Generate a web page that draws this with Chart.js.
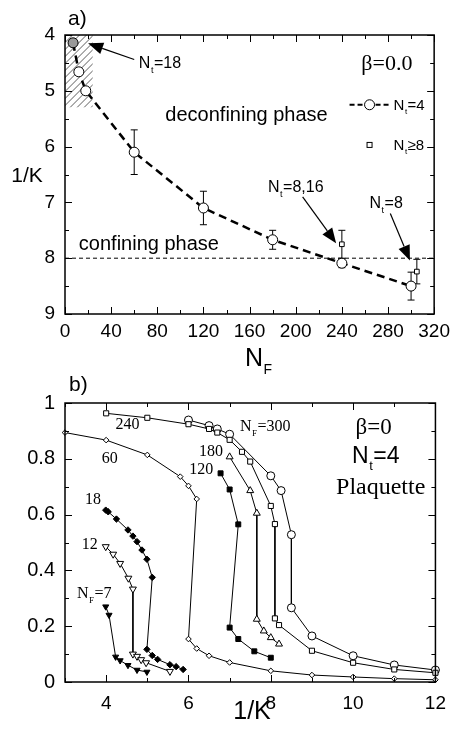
<!DOCTYPE html>
<html>
<head>
<meta charset="utf-8">
<script src="https://cdn.jsdelivr.net/npm/chart.js@4.4.0/dist/chart.umd.min.js"></script>
<style>
  body { margin: 0; background: #fff; }
  #wrap { position: relative; width: 456px; height: 731px; }
  #chart_a { position: absolute; left: 0; top: 0; }
  #chart_b { position: absolute; left: 0; top: 365px; }
</style>
</head>
<body>
<div id="wrap">
  <canvas id="chart_a" width="456" height="385"></canvas>
  <canvas id="chart_b" width="456" height="366"></canvas>
</div>
<script>
// ---- panel a) : critical 1/K vs N_F
const nfNt4 = [7, 12, 18, 60, 120, 180, 240, 300];
const invKNt4 = [4.14, 4.66, 5.0, 6.1, 7.1, 7.67, 8.09, 8.5];
const errNt4 = [0.05, 0.06, 0.06, 0.4, 0.3, 0.17, 0.08, 0.25];
const nfNt8 = [240, 305];
const invKNt8 = [7.75, 8.24];
const errNt8 = [0.25, 0.22];
const ticksNF = [0, 40, 80, 120, 160, 200, 240, 280, 320];
const ticksInvKa = [4, 5, 6, 7, 8, 9];
const confLine = 8;

// ---- panel b) : plaquette vs 1/K, N_t=4
const nf7X = [3.99, 4.07, 4.23, 4.34, 4.53, 4.75, 4.99];
const nf7Y = [0.27, 0.24, 0.09, 0.077, 0.06, 0.043, 0.036];
const nf12X = [3.99, 4.17, 4.34, 4.54, 4.65, 4.65, 4.75, 4.85, 4.97, 5.55];
const nf12Y = [0.485, 0.458, 0.425, 0.372, 0.333, 0.10, 0.092, 0.08, 0.069, 0.038];
const nf18X = [3.99, 4.05, 4.25, 4.53, 4.65, 4.75, 4.87, 4.99, 5.12, 4.99, 5.12, 5.25, 5.55, 5.7, 5.87];
const nf18Y = [0.616, 0.61, 0.584, 0.545, 0.523, 0.503, 0.473, 0.44, 0.375, 0.117, 0.095, 0.081, 0.062, 0.055, 0.045];
const nf60X = [3.0, 4.0, 5.0, 5.8, 6.0, 6.2, 6.0, 6.2, 6.5, 7.0, 8.0, 9.0, 10.0, 11.0, 12.0];
const nf60Y = [0.894, 0.867, 0.814, 0.736, 0.703, 0.656, 0.154, 0.12, 0.094, 0.07, 0.04, 0.025, 0.018, 0.012, 0.008];
const nf120X = [6.78, 7.0, 7.21, 7.0, 7.21, 7.6, 8.0];
const nf120Y = [0.748, 0.69, 0.565, 0.195, 0.154, 0.11, 0.087];
const nf180X = [7.0, 7.5, 7.66, 7.66, 7.83, 8.0, 8.2];
const nf180Y = [0.807, 0.686, 0.605, 0.225, 0.183, 0.159, 0.136];
const nf240X = [4.0, 5.0, 6.0, 6.5, 6.7, 7.0, 7.3, 7.5, 8.0, 8.1, 8.1, 8.2, 9.0, 10.0, 11.0, 12.0];
const nf240Y = [0.963, 0.947, 0.924, 0.907, 0.894, 0.868, 0.825, 0.79, 0.631, 0.566, 0.228, 0.204, 0.112, 0.069, 0.045, 0.033];
const nf300X = [6.0, 6.5, 6.7, 7.0, 8.0, 8.25, 8.5, 8.5, 9.0, 10.0, 11.0, 12.0];
const nf300Y = [0.939, 0.919, 0.907, 0.888, 0.739, 0.686, 0.528, 0.266, 0.165, 0.094, 0.061, 0.043];
const ticksInvKb = [4, 6, 8, 10, 12];
const ticksPlaq = [0, 0.2, 0.4, 0.6, 0.8, 1];

const SANS = '"Liberation Sans", Arial, sans-serif';
const SERIF = '"Liberation Serif", "Times New Roman", serif';

function pts(xs, ys) {
    return xs.map((x, i) => ({ x: x, y: ys[i] }));
}

function line(ctx, x1, y1, x2, y2) {
    ctx.beginPath();
    ctx.moveTo(x1, y1);
    ctx.lineTo(x2, y2);
    ctx.stroke();
}

function arrow(ctx, x1, y1, x2, y2) {
    const ang = Math.atan2(y2 - y1, x2 - x1);
    const head = 15, half = 6;
    const bx = x2 - head * Math.cos(ang), by = y2 - head * Math.sin(ang);
    ctx.lineWidth = 1.2;
    line(ctx, x1, y1, bx, by);
    ctx.beginPath();
    ctx.moveTo(x2, y2);
    ctx.lineTo(bx + half * Math.sin(ang), by - half * Math.cos(ang));
    ctx.lineTo(bx - half * Math.sin(ang), by + half * Math.cos(ang));
    ctx.closePath();
    ctx.fill();
}

// text with a subscript: main + sub + rest, baseline at y
function subText(ctx, x, y, main, sub, rest, size, family, align) {
    const subSize = Math.round(size * 0.55);
    ctx.textBaseline = 'alphabetic';
    ctx.textAlign = 'left';
    ctx.font = size + 'px ' + family;
    const w1 = ctx.measureText(main).width;
    const w3 = ctx.measureText(rest).width;
    ctx.font = subSize + 'px ' + family;
    const w2 = ctx.measureText(sub).width + 1;
    let start = x;
    if (align == 'center') start = x - (w1 + w2 + w3) / 2;
    ctx.font = size + 'px ' + family;
    ctx.fillText(main, start, y);
    ctx.fillText(rest, start + w1 + w2, y);
    ctx.font = subSize + 'px ' + family;
    ctx.fillText(sub, start + w1 + 0.5, y + size * 0.3);
}

function text(ctx, str, x, y, size, family, align) {
    ctx.font = size + 'px ' + family;
    ctx.textAlign = align || 'left';
    ctx.textBaseline = 'middle';
    ctx.fillText(str, x, y);
}

// inward ticks on all four sides + box
function drawFrame(chart, xMinor, xMajor, yMinor, yMajor) {
    const ctx = chart.ctx, a = chart.chartArea;
    const sx = chart.scales.x, sy = chart.scales.y;
    const isMajor = (v, m) => Math.abs(v / m - Math.round(v / m)) < 1e-6;
    ctx.save();
    ctx.strokeStyle = '#000';
    ctx.lineWidth = 1;
    for (let v = sx.min; v <= sx.max + 1e-9; v += xMinor) {
        const len = isMajor(v, xMajor) ? 7 : 4;
        const p = Math.round(sx.getPixelForValue(v)) + 0.5;
        line(ctx, p, a.bottom, p, a.bottom - len);
        line(ctx, p, a.top, p, a.top + len);
    }
    const lo = Math.min(sy.min, sy.max), hi = Math.max(sy.min, sy.max);
    for (let v = lo; v <= hi + 1e-9; v += yMinor) {
        const len = isMajor(v, yMajor) ? 7 : 4;
        const p = Math.round(sy.getPixelForValue(v)) + 0.5;
        line(ctx, a.left, p, a.left + len, p);
        line(ctx, a.right, p, a.right - len, p);
    }
    ctx.lineWidth = 1.5;
    ctx.strokeRect(a.left, a.top, a.right - a.left, a.bottom - a.top);
    ctx.restore();
}

function errorBars(chart, xs, ys, errs) {
    const ctx = chart.ctx, sx = chart.scales.x, sy = chart.scales.y;
    ctx.save();
    ctx.strokeStyle = '#000';
    ctx.lineWidth = 1;
    xs.forEach((x, i) => {
        const px = sx.getPixelForValue(x);
        const y1 = sy.getPixelForValue(ys[i] - errs[i]);
        const y2 = sy.getPixelForValue(ys[i] + errs[i]);
        line(ctx, px, y1, px, y2);
        line(ctx, px - 3.5, y1, px + 3.5, y1);
        line(ctx, px - 3.5, y2, px + 3.5, y2);
    });
    ctx.restore();
}

const panelA = {
    id: 'panelA',
    beforeDatasetsDraw(chart) {
        const ctx = chart.ctx, a = chart.chartArea;
        const sx = chart.scales.x, sy = chart.scales.y;
        // hatched region
        const hx1 = sx.getPixelForValue(0), hx2 = sx.getPixelForValue(24);
        const hy1 = sy.getPixelForValue(4), hy2 = sy.getPixelForValue(5.3);
        ctx.save();
        ctx.beginPath();
        ctx.rect(hx1, hy1, hx2 - hx1, hy2 - hy1);
        ctx.clip();
        ctx.strokeStyle = '#333';
        ctx.lineWidth = 0.8;
        for (let k = -100; k < 200; k += 7) {
            line(ctx, hx1 + k, hy2, hx1 + k + 100, hy2 - 100);
        }
        ctx.restore();
        // confining line
        ctx.save();
        ctx.strokeStyle = '#000';
        ctx.lineWidth = 1;
        ctx.setLineDash([4, 3]);
        const yc = sy.getPixelForValue(confLine);
        line(ctx, a.left, yc, a.right, yc);
        ctx.restore();
        errorBars(chart, nfNt4, invKNt4, errNt4);
        errorBars(chart, nfNt8, invKNt8, errNt8);
    },
    afterDraw(chart) {
        const ctx = chart.ctx, a = chart.chartArea;
        const sx = chart.scales.x, sy = chart.scales.y;
        drawFrame(chart, 20, 40, 0.5, 1);
        ctx.save();
        ctx.fillStyle = '#000';
        ctx.strokeStyle = '#000';
        text(ctx, 'a)', a.left + 3, a.top - 16, 21, SANS);
        text(ctx, '1/K', 27, 176, 21, SANS, 'center');
        subText(ctx, a.left + 180, 366, 'N', 'F', '', 25, SANS);
        text(ctx, 'deconfining phase', sx.getPixelForValue(87), sy.getPixelForValue(5.45), 20, SANS);
        text(ctx, 'confining phase', sx.getPixelForValue(12), sy.getPixelForValue(7.76), 20, SANS);
        text(ctx, 'β=0.0', sx.getPixelForValue(279), sy.getPixelForValue(4.52), 22, SERIF, 'center');
        // legend
        const lx = sx.getPixelForValue(264);
        const ly1 = sy.getPixelForValue(5.25), ly2 = sy.getPixelForValue(5.97);
        ctx.lineWidth = 2.2;
        ctx.setLineDash([5, 3]);
        line(ctx, lx - 20, ly1, lx - 6, ly1);
        line(ctx, lx + 6, ly1, lx + 20, ly1);
        ctx.setLineDash([]);
        ctx.lineWidth = 1;
        ctx.fillStyle = '#fff';
        ctx.beginPath();
        ctx.arc(lx, ly1, 5, 0, Math.PI * 2);
        ctx.fill();
        ctx.stroke();
        ctx.fillRect(lx - 2.5, ly2 - 2.5, 5, 5);
        ctx.strokeRect(lx - 2.5, ly2 - 2.5, 5, 5);
        ctx.fillStyle = '#000';
        subText(ctx, lx + 24, ly1 + 5, 'N', 't', '=4', 15, SANS);
        subText(ctx, lx + 24, ly2 + 5, 'N', 't', '≥8', 15, SANS);
        // arrows and labels
        subText(ctx, sx.getPixelForValue(64), sy.getPixelForValue(4.48) + 6, 'N', 't', '=18', 16, SANS);
        arrow(ctx, sx.getPixelForValue(60), sy.getPixelForValue(4.44), sx.getPixelForValue(20), sy.getPixelForValue(4.15));
        subText(ctx, sx.getPixelForValue(176), sy.getPixelForValue(6.71) + 6, 'N', 't', '=8,16', 16, SANS);
        arrow(ctx, sx.getPixelForValue(206), sy.getPixelForValue(6.9), sx.getPixelForValue(235), sy.getPixelForValue(7.73));
        subText(ctx, sx.getPixelForValue(264), sy.getPixelForValue(6.99) + 6, 'N', 't', '=8', 16, SANS);
        arrow(ctx, sx.getPixelForValue(282), sy.getPixelForValue(7.2), sx.getPixelForValue(299), sy.getPixelForValue(8.04));
        ctx.restore();
    }
};

const chartA = new Chart(document.getElementById('chart_a'), {
    type: 'scatter',
    data: {
        datasets: [{
            label: 'Nt=4',
            data: pts(nfNt4, invKNt4),
            showLine: true,
            borderColor: '#000',
            borderWidth: 2.5,
            borderDash: [8, 5],
            pointStyle: 'circle',
            pointRadius: 5,
            pointBorderWidth: 1,
            pointBorderColor: '#000',
            pointBackgroundColor: nfNt4.map((v, i) => i == 0 ? '#999' : '#fff'),
            clip: false
        }, {
            label: 'Nt>=8',
            data: pts(nfNt8, invKNt8),
            showLine: false,
            pointStyle: 'rect',
            pointRadius: 3.3,
            pointBorderWidth: 1,
            pointBorderColor: '#000',
            pointBackgroundColor: '#fff',
            clip: false
        }]
    },
    options: {
        responsive: false,
        animation: false,
        layout: { padding: { left: 0, right: 18, top: 35, bottom: 0 } },
        plugins: { legend: { display: false }, tooltip: { enabled: false } },
        scales: {
            x: {
                type: 'linear', min: 0, max: 320,
                afterBuildTicks: s => { s.ticks = ticksNF.map(v => ({ value: v })); },
                afterFit: s => { s.height = 71; },
                grid: { display: false, drawTicks: false },
                border: { display: false },
                ticks: { color: '#000', padding: 6, maxRotation: 0, font: { family: SANS, size: 19 } }
            },
            y: {
                type: 'linear', min: 4, max: 9, reverse: true,
                afterBuildTicks: s => { s.ticks = ticksInvKa.map(v => ({ value: v })); },
                afterFit: s => { s.width = 65; },
                grid: { display: false, drawTicks: false },
                border: { display: false },
                ticks: { color: '#000', padding: 10, font: { family: SANS, size: 19 } }
            }
        }
    },
    plugins: [panelA]
});

const panelB = {
    id: 'panelB',
    afterDraw(chart) {
        const ctx = chart.ctx, a = chart.chartArea;
        const sx = chart.scales.x, sy = chart.scales.y;
        drawFrame(chart, 1, 2, 0.1, 0.2);
        ctx.save();
        ctx.fillStyle = '#000';
        text(ctx, 'b)', a.left + 4, a.top - 18, 21, SANS);
        text(ctx, '1/K', 252, 347, 25, SANS, 'center');
        const lab = (s, x, y) => text(ctx, s, sx.getPixelForValue(x), sy.getPixelForValue(y), 16, SERIF, 'center');
        lab('240', 4.52, 0.921);
        lab('60', 4.09, 0.80);
        lab('180', 6.55, 0.824);
        lab('120', 6.31, 0.76);
        lab('18', 3.68, 0.652);
        lab('12', 3.6, 0.491);
        subText(ctx, sx.getPixelForValue(3.29), sy.getPixelForValue(0.323) + 6, 'N', 'F', '=7', 16, SERIF);
        subText(ctx, sx.getPixelForValue(7.25), sy.getPixelForValue(0.921) + 6, 'N', 'F', '=300', 16, SERIF);
        text(ctx, 'β=0', sx.getPixelForValue(10.5), sy.getPixelForValue(0.91), 23, SERIF, 'center');
        subText(ctx, sx.getPixelForValue(10.55), sy.getPixelForValue(0.814) + 8, 'N', 't', '=4', 23, SANS, 'center');
        text(ctx, 'Plaquette', sx.getPixelForValue(10.67), sy.getPixelForValue(0.695), 24, SERIF, 'center');
        ctx.restore();
    }
};

function serie(xs, ys, style, radius, filled, rotation) {
    return {
        data: pts(xs, ys),
        showLine: true,
        borderColor: '#000',
        borderWidth: 1,
        pointStyle: style,
        pointRadius: radius,
        pointRotation: rotation || 0,
        pointBorderWidth: 1,
        pointBorderColor: '#000',
        pointBackgroundColor: filled ? '#000' : '#fff',
        clip: false
    };
}

const chartB = new Chart(document.getElementById('chart_b'), {
    type: 'scatter',
    data: {
        datasets: [
            serie(nf7X, nf7Y, 'triangle', 3.5, true, 180),
            serie(nf12X, nf12Y, 'triangle', 4, false, 180),
            serie(nf18X, nf18Y, 'rectRot', 3.2, true),
            serie(nf60X, nf60Y, 'rectRot', 2.8, false),
            serie(nf120X, nf120Y, 'rect', 3.5, true),
            serie(nf180X, nf180Y, 'triangle', 4, false),
            serie(nf240X, nf240Y, 'rect', 3.6, false),
            serie(nf300X, nf300Y, 'circle', 4, false)
        ]
    },
    options: {
        responsive: false,
        animation: false,
        layout: { padding: { left: 0, right: 18, top: 38, bottom: 0 } },
        plugins: { legend: { display: false }, tooltip: { enabled: false } },
        scales: {
            x: {
                type: 'linear', min: 3, max: 12,
                afterBuildTicks: s => { s.ticks = ticksInvKb.map(v => ({ value: v })); },
                afterFit: s => { s.height = 49; },
                grid: { display: false, drawTicks: false },
                border: { display: false },
                ticks: { color: '#000', padding: 10, maxRotation: 0, font: { family: SANS, size: 19 } }
            },
            y: {
                type: 'linear', min: 0, max: 1,
                afterBuildTicks: s => { s.ticks = ticksPlaq.map(v => ({ value: v })); },
                afterFit: s => { s.width = 65; },
                grid: { display: false, drawTicks: false },
                border: { display: false },
                ticks: { color: '#000', padding: 10, font: { family: SANS, size: 20 }, callback: v => String(v) }
            }
        }
    },
    plugins: [panelB]
});
</script>
</body>
</html>
